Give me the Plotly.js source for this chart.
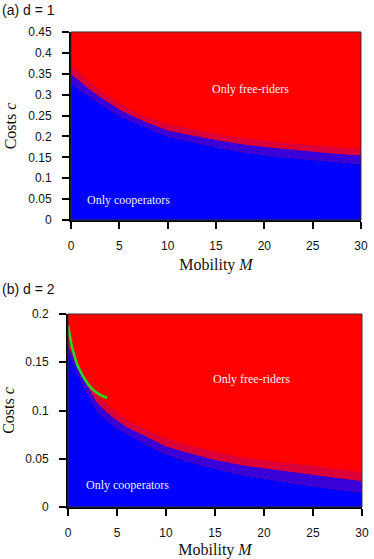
<!DOCTYPE html>
<html>
<head>
<meta charset="utf-8">
<script src="https://cdn.plot.ly/plotly-3.0.1.min.js"></script>
<style>
  html, body { margin: 0; padding: 0; background: #fff; }
  #chart { width: 374px; height: 559px; }
</style>
</head>
<body>
<div id="chart"></div>
<script>
// panel (a), d = 1 : boundary between cooperators (below) and free-riders (above)
const mobilityA = [0, 1, 2, 3, 4, 5, 6, 8, 10, 12, 15, 18, 21, 24, 27, 30];
const lowA  = [0.33, 0.31, 0.295, 0.28, 0.265, 0.25, 0.24, 0.22, 0.20, 0.19, 0.175, 0.162, 0.153, 0.146, 0.14, 0.134];
const midA  = [0.35, 0.33, 0.312, 0.295, 0.28, 0.265, 0.253, 0.232, 0.215, 0.205, 0.192, 0.181, 0.173, 0.166, 0.16, 0.155];
const highA = [0.37, 0.35, 0.33, 0.31, 0.295, 0.28, 0.265, 0.245, 0.23, 0.22, 0.206, 0.195, 0.187, 0.181, 0.175, 0.17];

// panel (b), d = 2
const mobilityB = [0, 0.5, 1, 2, 3, 4, 5, 6, 8, 10, 12, 15, 18, 21, 24, 27, 30];
const lowB  = [0.16, 0.15, 0.138, 0.118, 0.10, 0.09, 0.082, 0.076, 0.065, 0.055, 0.048, 0.04, 0.033, 0.028, 0.023, 0.019, 0.015];
const midB  = [0.168, 0.157, 0.144, 0.125, 0.108, 0.098, 0.09, 0.083, 0.073, 0.063, 0.057, 0.049, 0.043, 0.039, 0.035, 0.031, 0.027];
const highB = [0.178, 0.162, 0.148, 0.13, 0.115, 0.106, 0.098, 0.09, 0.08, 0.071, 0.065, 0.057, 0.051, 0.047, 0.044, 0.04, 0.036];

// analytical curve (green)
const mobilityCurve = [0, 0.2, 0.4, 0.7, 1.0, 1.5, 2.0, 2.5, 3.0, 3.5, 4.0];
const costCurve     = [0.188, 0.176, 0.166, 0.155, 0.146, 0.136, 0.128, 0.122, 0.118, 0.115, 0.113];

const RED = "#ff0000", BLUE = "#0000ff";

function bands(x, lo, mid, hi, xa, ya){
    return [
        { x: x, y: lo,  xaxis: xa, yaxis: ya, type: "scatter", mode: "lines",
          line: {width: 0}, fill: "tozeroy", fillcolor: BLUE, hoverinfo: "skip" },
        { x: x, y: mid, xaxis: xa, yaxis: ya, type: "scatter", mode: "lines",
          line: {width: 0}, fill: "tonexty", fillcolor: "#3a00d8", hoverinfo: "skip" },
        { x: x, y: hi,  xaxis: xa, yaxis: ya, type: "scatter", mode: "lines",
          line: {width: 0}, fill: "tonexty", fillcolor: "#dc0038", hoverinfo: "skip" }
    ];
}

const traces = [
    ...bands(mobilityA, lowA, midA, highA, "x", "y"),
    ...bands(mobilityB, lowB, midB, highB, "x2", "y2"),
    { x: mobilityCurve, y: costCurve, xaxis: "x2", yaxis: "y2", type: "scatter", mode: "lines",
      line: {color: "#22dd22", width: 2.5}, hoverinfo: "skip" }
];

const tickFont = {family: "Liberation Sans, Arial, sans-serif", size: 12, color: "#111"};
const titleFont = {family: "Liberation Serif, Times New Roman, serif", size: 16, color: "#111"};

function xAxis(domain, anchor){
    return {
        domain: domain, anchor: anchor, range: [0, 30], dtick: 5,
        showgrid: false, zeroline: false, showline: true, linecolor: "#000", linewidth: 2,
        ticks: "outside", ticklen: 7, tickwidth: 2, tickcolor: "#000",
        tickfont: tickFont, ticklabelstandoff: 7,
        title: {text: "Mobility <i>M</i>", font: titleFont, standoff: 6}
    };
}
function yAxis(domain, anchor, range, dtick){
    return {
        domain: domain, anchor: anchor, range: range, dtick: dtick,
        showgrid: false, zeroline: false, showline: true, linecolor: "#000", linewidth: 2,
        ticks: "outside", ticklen: 7, tickwidth: 2, tickcolor: "#000",
        tickfont: tickFont, ticklabelstandoff: 8,
        title: {text: "Costs <i>c</i>", font: titleFont, standoff: 8}
    };
}

const layout = {
    width: 374, height: 559,
    margin: {l: 0, r: 0, t: 0, b: 0},
    paper_bgcolor: "#fff", plot_bgcolor: RED,
    showlegend: false,
    xaxis:  xAxis([0.1898, 0.9652], "y"),
    yaxis:  yAxis([0.6064, 0.9428], "x", [0, 0.45], 0.05),
    xaxis2: xAxis([0.1818, 0.9679], "y2"),
    yaxis2: yAxis([0.0930, 0.4383], "x2", [0, 0.2], 0.05),
    shapes: [
        {type: "rect", xref: "x domain", yref: "y domain", x0: 0, x1: 1, y0: 0, y1: 1,
         line: {color: "#333", width: 1}},
        {type: "rect", xref: "x2 domain", yref: "y2 domain", x0: 0, x1: 1, y0: 0, y1: 1,
         line: {color: "#333", width: 1}}
    ],
    annotations: [
        {text: "(a) d = 1", xref: "paper", yref: "paper", x: 0, y: 1, xanchor: "left", yanchor: "top",
         showarrow: false, font: {family: "Liberation Sans, Arial, sans-serif", size: 14, color: "#111"}},
        {text: "(b) d = 2", xref: "paper", yref: "paper", x: 0, y: 0.483, xanchor: "left", yanchor: "middle",
         showarrow: false, font: {family: "Liberation Sans, Arial, sans-serif", size: 14, color: "#111"}},
        {text: "Only free-riders", xref: "x", yref: "y", x: 18.6, y: 0.313, showarrow: false,
         font: {family: "Liberation Serif, serif", size: 12, color: "#ffeeee"}},
        {text: "Only cooperators", xref: "x", yref: "y", x: 5.9, y: 0.048, showarrow: false,
         font: {family: "Liberation Serif, serif", size: 12, color: "#eeeeff"}},
        {text: "Only free-riders", xref: "x2", yref: "y2", x: 18.7, y: 0.133, showarrow: false,
         font: {family: "Liberation Serif, serif", size: 12, color: "#ffeeee"}},
        {text: "Only cooperators", xref: "x2", yref: "y2", x: 6.1, y: 0.023, showarrow: false,
         font: {family: "Liberation Serif, serif", size: 12, color: "#eeeeff"}}
    ]
};

Plotly.newPlot("chart", traces, layout, {displayModeBar: false, staticPlot: true});
</script>
</body>
</html>
